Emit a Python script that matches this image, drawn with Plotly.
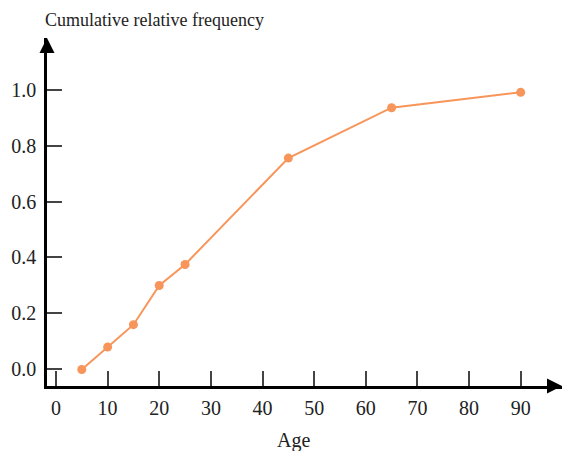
import plotly.graph_objects as go

ages = [5, 10, 15, 20, 25, 45, 65, 90]
cum_rel_freq = [0.0, 0.08, 0.16, 0.30, 0.375, 0.755, 0.935, 0.99]
x_ticks = [0, 10, 20, 30, 40, 50, 60, 70, 80, 90]
y_ticks = [0.0, 0.2, 0.4, 0.6, 0.8, 1.0]
y_tick_labels = ["0.0", "0.2", "0.4", "0.6", "0.8", "1.0"]

orange = "#F7955A"
font = "Liberation Serif, Times New Roman, serif"

W, H = 564, 451
L, R, T, B = 47, 2, 38, 65
pw = W - L - R
ph = H - T - B

def py(yp):
    return (H - B - yp) / ph

fig = go.Figure()
fig.add_trace(go.Scatter(
    x=ages, y=cum_rel_freq, mode="lines+markers",
    line=dict(color=orange, width=2),
    marker=dict(color=orange, size=9),
    cliponaxis=False, showlegend=False,
))

fig.update_layout(
    width=W, height=H,
    margin=dict(l=L, r=R, t=T, b=B, autoexpand=False),
    plot_bgcolor="white", paper_bgcolor="white",
    font=dict(family=font, size=20, color="#222"),
    xaxis=dict(
        range=[-1.74, 98.0], tickvals=x_ticks, ticks="inside", ticklen=15,
        tickwidth=1.5, tickcolor="#444", showgrid=False, zeroline=False,
        showline=True, linecolor="black", linewidth=2.5,
        ticklabelstandoff=2, automargin=False,
    ),
    yaxis=dict(
        range=[-0.059, 1.184], tickvals=y_ticks, ticktext=y_tick_labels,
        ticks="inside", ticklen=15, tickwidth=1.5, tickcolor="#444",
        showgrid=False, zeroline=False,
        showline=True, linecolor="black", linewidth=2.5,
        ticklabelstandoff=4, automargin=False,
    ),
    annotations=[
        dict(x=1, y=0, xref="paper", yref="paper", ax=-14, ay=0,
             showarrow=True, arrowhead=2, arrowsize=1.2, arrowwidth=2.5,
             arrowcolor="black", text=""),
        dict(x=0, y=1, xref="paper", yref="paper", ax=0, ay=14,
             showarrow=True, arrowhead=2, arrowsize=1.2, arrowwidth=2.5,
             arrowcolor="black", text=""),
        dict(x=0, y=py(20), xref="paper", yref="paper", xshift=-4,
             text="Cumulative relative frequency", font=dict(size=18),
             showarrow=False, xanchor="left", yanchor="middle"),
        dict(x=0.5, y=py(440), xref="paper", yref="paper", xshift=293 - (L + pw / 2),
             text="Age", showarrow=False, xanchor="center", yanchor="middle"),
    ],
)

fig.write_html("out.html", config={"displayModeBar": False},
               post_script="document.body.style.margin='0';document.body.style.padding='0';")
